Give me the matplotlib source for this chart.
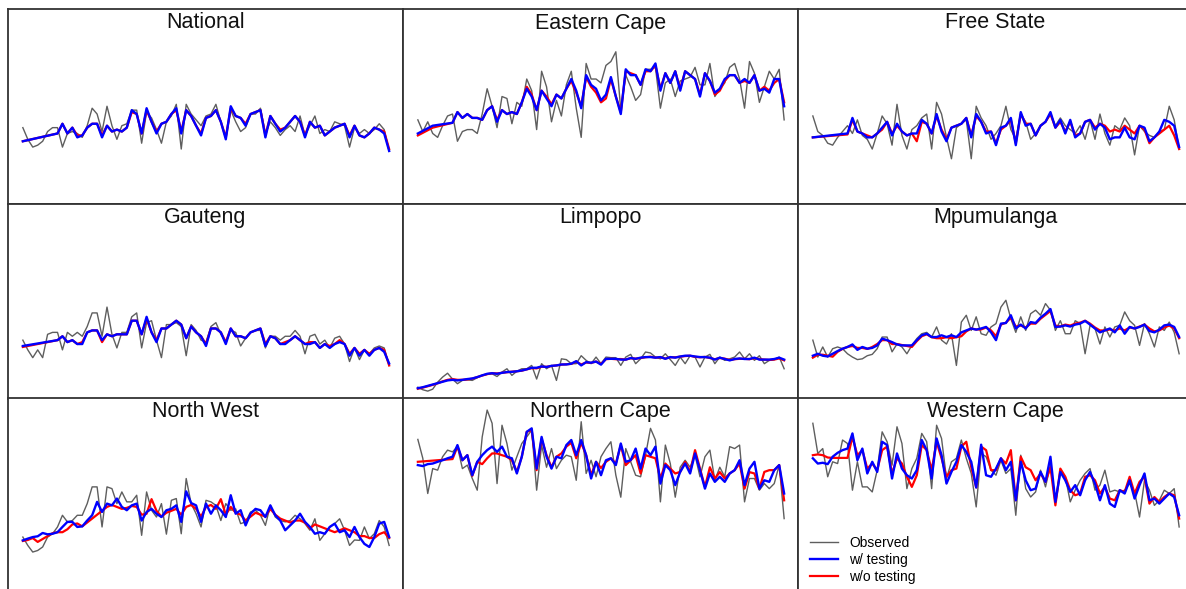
import numpy as np
import matplotlib
matplotlib.use("Agg")
import matplotlib.pyplot as plt
from matplotlib.lines import Line2D

plt.rcParams['font.family'] = ['Liberation Sans', 'DejaVu Sans']

N = None

regions = ["National", "Eastern Cape", "Free State",
           "Gauteng", "Limpopo", "Mpumulanga",
           "North West", "Northern Cape", "Western Cape"]

# ---- National ----
nat_obs = [39,33,29,30,32,37,39,39,29,36, 37,36,34,40,49,46,37,50,40,33,
           40,41,48,48,31,47,44,38,31,42, 45,51,28,51,46,43,40,45,46,51,
           42,34,48,42,37,39,46,46,49,36, 42,39,35,38,40,37,45,35,40,45,
           36,38,37,42,41,40,29,39,36,38, 36,38,41,38,27]
nat_w = [32,N,N,N,N,N,N,36,41,36, 39,34,35,39,41,41,34,40,37,38,
         37,39,48,46,36,49,42,36,41,42, 46,49,36,48,45,40,35,44,45,48,
         42,33,50,45,44,40,46,47,48,34, 45,41,37,39,42,45,42,34,42,39,
         40,35,37,39,40,41,34,40,35,34, 36,39,38,36,27]
nat_wo = [32,N,N,N,N,N,N,36,41,36, 39,35,35,39,41,41,35,40,37,38,
          37,39,47,46,36,48,42,37,41,42, 46,48,37,48,45,40,36,44,45,48,
          42,34,49,45,44,41,46,47,48,35, 45,41,38,39,42,45,42,35,42,39,
          40,35,37,39,40,41,35,40,35,34, 36,39,38,37,28]

# ---- Eastern Cape ----
ec_obs = [43,37,42,36,34,40,45,46,32,37, 38,38,36,46,59,50,39,55,54,41,
          52,50,64,58,38,68,60,42,53,45, 61,68,49,34,72,64,64,62,71,73,
          78,48,66,60,53,56,69,69,70,49, 62,64,55,63,64,65,70,61,61,72,
          55,59,62,70,72,64,49,73,67,52, 60,68,64,69,43]
ec_w = [36,N,N,40,N,N,N,41.5,47,44, 46,44,44,43,48,50,42,48,46,47,
        46,52,59,55,48,58,54,50,56,54, 59,64,58,49,66,61,59,53,56,65,
        55,46,69,66,66,61,69,68,72,58, 67,62,68,58,68,66,64,55,67,63,
        57,59,64,66,66,62,64,62,66,58, 59,57,64,64,50]
ec_wo = [35,N,N,39,N,N,N,41.5,47,44, 46,44,44,43,48,50,43,48,46,47,
         46,52,60,56,48,58,55,51,56,54, 59,63,57,50,65,60,57,52,54,64,
         55,47,68,67,66,61,68,68,71,59, 67,62,68,59,68,66,64,56,67,63,
         56,58,63,66,66,62,63,62,66,58, 60,58,62,64,52]

# ---- Free State ----
fs_obs = [45,37,35,31,30,34,37,40,36,43, 35,33,28,36,45,41,30,51,35,28,
          38,40,44,46,28,52,46,34,23,39, 41,43,23,50,44,40,33,36,40,50,
          38,33,46,42,33,36,40,42,46,40, 44,40,38,36,40,33,43,33,46,36,
          30,40,38,44,40,25,40,37,35,34, 37,38,50,43,28]
fs_w = [34,N,N,N,N,N,N,36,44,37, 36,34,34,36,39,42,35,41,37,35,
        36,36,43,41,36,46,37,32,39,40, 41,44,34,46,42,36,37,30,39,40,
        44,30,47,40,41,35,40,42,47,39, 43,36,43,34,36,42,43,38,41,39,
        33,34,34,39,34,33,40,39,32,34, 37,43,42,40,29]
fs_wo = [34,N,N,N,N,N,N,35.5,43,37, 36,35,34,36,38,42,36,40,37,35,
         36,32,42,41,36,45,38,33,39,40, 41,44,35,45,42,37,37,31,38,40,
         43,31,46,41,41,35,40,42,46,39, 42,37,42,35,36,42,43,39,41,40,
         37,38,37,40,38,36,40,38,31,34, 36,38,40,35,28]

# ---- Gauteng ----
gt_obs = [30,25,21,25,21,33,34,34,25,34, 32,34,32,37,44,44,32,47,33,26,
          34,34,42,44,26,39,40,30,21,38, 38,39,37,22,38,35,30,29,37,39,
          33,29,35,34,27,31,34,35,35,26, 32,32,30,32,32,35,32,23,32,33,
          28,30,26,31,32,28,19,26,20,25, 23,26,27,26,17]
gt_w = [27,N,N,N,N,N,N,30,32,29, 30,28,28,34,35,35,30,33,32,33,
        33,33,40,40,33,42,34,29,36,36, 38,40,38,31,37,34,32,27,36,36,
        34,28,36,32,32,31,34,35,36,27, 32,31,28,28,30,32,30,28,28,29,
        26,28,26,28,29,28,22,26,22,25, 22,25,26,24,18]
gt_wo = [26.5,N,N,N,N,N,N,30,32,29, 30,28,29,34,35,35,29,33,32,33,
         33,33,40,40,33,41,34,30,36,36, 38,40,38,31,37,34,32,28,36,36,
         34,29,36,32,32,31,34,35,36,28, 32,31,28,29,30,32,30,28,29,29,
         26,28,27,28,30,28,23,26,23,25, 23,25,26,25,17]

# ---- Limpopo ----
lp_obs = [5.8,4.5,3.8,4.8,8.4,11,13,10,7.6,9.3, 9.6,9.3,10.7,11.9,12.4,12.7,11.3,13.6,15.3,11.9,
          14,15.3,15.3,17,10,17.9,15.3,17,9.3,20.4, 20,17.9,17.9,22,19.6,17.9,21.3,17.9,21.3,21,
          21,17,21.3,22.7,17.9,20.4,23.9,23.4,21.3,20.4, 23,20,17,21.3,17.9,22,21.3,16.2,21.3,22.7,
          17.9,21.3,19.6,20.4,21.3,23.9,20.4,23,19.6,22, 17.9,19.6,20,21.3,15.3]
lp_w = [5.3,5.8,6.5,7.2,7.9,8.6,9.3,9.6,9.3,9.6, 10,10.3,11,11.9,12.7,13,12.7,13.2,13.6,13.7,
        14,14.4,15,15.8,15.8,16.5,16.2,16.8,17,17.5, 17.5,17.9,19.2,17,18.7,18.4,19,17.4,20.4,20.4,
        20.4,20,20,20.8,20.4,21,21.3,21.3,21,21.3, 20.4,21.3,21,21.6,22,22,21.6,21.3,21.3,21,
        20,21,20.3,19.6,20.3,20.6,20.3,20.3,21,20, 20,20,20.3,21,20]
lp_wo = [5.0,5.6,6.3,7.0,7.8,8.8,9.6,10.0,9.6,9.6, 9.8,10.2,11,11.8,12.5,13,12.9,13.2,13.5,13.8,
         14,14.3,15,15.6,15.5,16.3,16.3,16.7,17,17.4, 17.6,17.8,19,17.5,18.5,18.3,19,17.8,20.2,20.4,
         20.2,20.3,20,20.7,20.5,20.8,21.2,21.5,21,21.2, 20.6,21.2,21.2,21.5,21.8,22,21.4,21.2,21.4,20.8,
         20.2,20.8,20.5,19.8,20.2,20.4,20.4,20.2,20.8,20.2, 20,19.8,20,20.6,19.6]

# ---- Mpumulanga ----
mp_obs = [30,21.3,26.5,21.3,25.6,26.5,25.6,23,21.3,20, 20.4,22,22.7,25.6,31.6,31.6,24,28,26.5,23,
          27.3,30.8,33.3,34,31.6,36.8,30,28,33.3,17, 39.3,42.8,35,42,33.3,32.5,36.8,38.5,47,50.5,
          41,34,42,35,43.6,45.4,42.8,48.8,45.4,35, 40,33.3,33.3,40,38.5,23,37.6,36,28,36.8,
          31.6,36.8,37.6,44.5,40,37.6,27.3,38.5,33.3,26.5, 36.8,35,39.3,34,23]
mp_w = [22,23,22,21.6,23,24.4,25.6,26.5,27.8,25, 26.5,25.6,26,27.3,30.8,30,29,27.8,27.3,27.3,
        27.3,30,32.5,33.3,31.6,31.6,32.5,31.6,32.5,31.6, 34,35,36,35.4,36,36.8,34,30,38.5,38.8,
        42.8,36,38,36,39.3,38.8,41.6,43.6,46,36.8, 37,37.6,37,38,38.5,39.9,38,36,34,35,
        36,34,37.6,33.3,36.8,36,36.8,38,34.7,34, 35.4,37.6,38,36.8,31.6]
mp_wo = [21,22.5,22.5,22,21.5,24,25.5,26.5,27,26, 26,25.5,26.5,28,30,30,28,28,27.5,27,
         26.5,29.5,32,33,31.5,31,31,31.5,31,31.5, 32,34.5,36,35.5,35.5,36.5,35,32,38,39,
         41.5,37,37.5,36.5,38.5,38.5,41,43,45,37.5, 37,38,37.5,38.5,39,40,38.5,36.5,35,35,
         35.5,35,36,35,36.5,36,37,38,36,34.5, 35,36.5,37.5,36,31]

# ---- North West ----
nw_obs = [28.5,24.2,20.8,21.6,23.4,28.5,30.2,33.7,39.7,36.3, 37,39.7,39.7,45.7,54.3,54.3,33.7,54.3,53.4,45.7,
          51.7,46.6,46.6,50,29.4,51.7,42.3,38.8,45.7,30, 47.4,48.3,30.2,58.6,45.7,40.5,33.7,47.4,46.6,44.8,
          37,45.7,42.3,43,35.4,36.3,41.4,42.3,39.7,34.5, 44.8,38.8,37,36.3,37,39.7,37.9,35.4,32,37.9,
          26.8,30.2,33.7,35.4,37.9,32,24.2,27,26.8,33.7, 27.7,30.2,37,33.7,24.2]
nw_w = [26.8,27.7,28.5,28.9,30.6,29.9,30.2,31,33.7,36.3, 36.3,33.7,34,37,39.7,46.6,41.4,45.7,44.8,48.3,
        44,42.3,44.8,45.7,37,41.4,43,40.5,38.8,42.3, 43,44.8,36.3,52,46,44.8,36.3,45.7,40.5,44.8,
        42.3,38.8,50,40.5,42.3,34.5,40.5,43,42.3,38.8, 44.8,39.7,37,32,34.5,37,40.5,36.3,33.7,30.2,
        31,30.2,33.7,35.4,31,32,28.5,33.7,28.5,25, 23.4,28.5,35.4,36.3,28.5]
nw_wo = [26.5,27,28,26,27.5,29,30.5,31,31,32.5, 35,35.5,34,36,38,40,42,44,45,44,
         43,43.5,44.5,44,40,40.5,48,42,39,41, 42,43,40,44,45,43,39,44,45,43,
         48,40,44,41,40,37,39,41,40,39, 43,40,38,37,36,37,37,36,33,35,
         34,33,32,31,32,33,32,31,29,29, 28,28,30,31,28]

# ---- Northern Cape ----
nc_obs = [78.7,69,50.9,63.7,62.9,69.8,73.2,72.3,75,63.7, 65.5,58.6,52.6,80,93.8,87,56,86,76.6,62.9,
          69.8,76.6,80,83.5,52.6,75.8,64.4,74,63.7,68, 70.6,69.8,57.7,87.8,61.2,68,59.5,69.8,74,77.5,
          60.3,49,74,67.2,60.3,59.5,70.6,84.4,78.4,46.6, 75.8,66.3,49,64.4,68,64.4,70.6,59.5,69.8,73.2,
          57.7,64.4,59.5,75,74,75.8,46.6,58.6,58.6,52.6, 56,53.4,56,65.5,38]
nc_w = [65.5,65,66,66.3,67.2,68,69,69.8,75.8,68, 70.6,60.3,67.2,70.6,73.2,75,72.3,75,69.8,69,
        61.2,69.8,82.6,84.4,63.7,80,69.8,63.7,69.8,69, 75.8,78.4,70.6,78.4,70.6,58.6,67.2,60.3,68,69,
        65.5,76.6,67.2,68,74,63.7,74,70.6,75,56, 65.5,62.9,55.2,62,66.3,61.2,71.5,62.9,53.4,61.2,
        56.9,59.5,56.9,61.2,62.9,68,55.2,63.7,67.2,53.4, 57.7,56.9,62.9,65.5,50.9]
nc_wo = [67.2,N,N,N,N,N,N,68.6,75,68, 70.6,60,67.2,66,69,71.5,71.5,70.6,69.8,68,
         62,69.8,82.6,83.5,62.9,79,70.6,64.4,69.8,71.5, 75,77,69,77,70.6,60.3,67.2,64,67.2,69,
         66.3,75.8,65.5,68,70.6,61.2,70.6,69.8,69,58.6, 66.3,63.7,61.2,62,67.2,62,73.2,63.7,54.3,64.4,
         58.6,61.9,58.6,61.2,62.9,66.3,53.4,61.9,61.2,53.4, 62,62.9,62.9,65.5,47.4]

# ---- Western Cape ----
wc_obs = [87,71.5,74,59.5,67.2,66.3,78.4,76.6,52.6,67.2, 54.3,54.3,51.7,62.9,82.6,77.5,65.5,85.2,76.6,53.4,
          63.7,69,81.8,77.5,53.4,86,79.2,58.6,67.2,69, 78.4,69,61.2,44,71.5,69.8,62.9,60.3,68,61.2,
          63.7,39.7,70.6,53.4,49.1,51.7,62.9,54.3,65.5,47.4, 62,59.5,46.6,52.6,57.7,61.2,63.7,52.6,55.2,62.9,
          51.7,52.6,51.7,52.6,56,51.7,38.8,57.7,52.6,44.8, 47.4,52.6,50.9,53.4,33.7]
wc_w = [69,66.3,66.7,66,69.8,71.8,73.2,74,81.8,68, 74,61.2,67.2,62,77.5,75.8,58.6,71.5,63.7,60.3,
        58.6,62.9,78.4,73.2,58.6,79.2,70.6,56,62,67.2, 75.8,72.3,67.2,54,76,60.3,59.5,63.7,69,62.9,
        67.2,47.4,67.2,57.7,52.6,53.4,62,56.9,69.8,46.6, 62,57.7,51.7,55.2,50,57.7,62,56,47.4,55.2,
        45.7,44,52.6,50.9,57.7,48.3,55.2,61.2,47.4,48.3, 45.7,48.3,50.9,49.1,39.7]
wc_wo = [70.6,71,70.6,69.4,69.2,69.2,69.2,69.2,80,70.6, 73.2,63.7,66.3,62.9,73.2,75,61.2,69,66.3,59.5,
         54.3,60.3,75.8,73.2,62.9,77.5,69,59.5,62.9,63.7, 75,77.5,64.4,54,75,73.2,62.9,62.9,69,66.3,
         73.2,47.4,69.8,64.4,62.9,57.7,61.2,56.9,64.4,44.8, 63.7,59.5,52.6,50,50.9,59.5,60.3,57.7,50.9,54.3,
         48.3,47.4,52.6,51.7,59.5,50.9,56.9,59.5,45.7,49.1, 46.6,49.1,50.9,50,38]

observed = [nat_obs, ec_obs, fs_obs, gt_obs, lp_obs, mp_obs, nw_obs, nc_obs, wc_obs]
with_testing = [nat_w, ec_w, fs_w, gt_w, lp_w, mp_w, nw_w, nc_w, wc_w]
without_testing = [nat_wo, ec_wo, fs_wo, gt_wo, lp_wo, mp_wo, nw_wo, nc_wo, wc_wo]

W, H = 1186, 589
fig = plt.figure(figsize=(W / 100, H / 100), dpi=100)

col_left = [8, 403, 798]
row_top = [9, 204, 398]
pw, ph = 395, 194.5

OBS_C, W_C, WO_C = '#5e5e5e', '#0000ff', '#ff0000'

def draw(ax, yvals, **kw):
    y = np.array(yvals, dtype=float)
    x = np.arange(len(y))
    m = ~np.isnan(y)
    ax.plot(x[m], y[m], **kw)

for k, name in enumerate(regions):
    r, c = divmod(k, 3)
    left = col_left[c] / W
    bottom = 1 - (row_top[r] + ph) / H
    ax = fig.add_axes([left, bottom, pw / W, ph / H])
    draw(ax, observed[k], color=OBS_C, lw=1.0, zorder=2)
    draw(ax, without_testing[k], color=WO_C, lw=1.6, zorder=3)
    draw(ax, with_testing[k], color=W_C, lw=1.7, zorder=4)
    ax.set_xlim(-3.0, 76.8)
    ax.set_ylim(0, 100)
    ax.set_xticks([])
    ax.set_yticks([])
    for s in ax.spines.values():
        s.set_color('#333333')
        s.set_linewidth(1.3)
    ax.text(0.5, 1 - 3.5 / ph, name, transform=ax.transAxes, ha='center',
            va='top', fontsize=15.5, color='#111111')
    if name == "Western Cape":
        handles = [Line2D([], [], color=OBS_C, lw=1.0),
                   Line2D([], [], color=W_C, lw=1.7),
                   Line2D([], [], color=WO_C, lw=1.6)]
        ax.legend(handles, ["Observed", "w/ testing", "w/o testing"],
                  loc='upper left', bbox_to_anchor=(12 / pw, 1 - (536 - 398) / ph),
                  frameon=False, fontsize=10, handlelength=2.0,
                  handletextpad=0.8, labelspacing=0.2, borderpad=0,
                  borderaxespad=0)

fig.savefig("out.png", dpi=100)
